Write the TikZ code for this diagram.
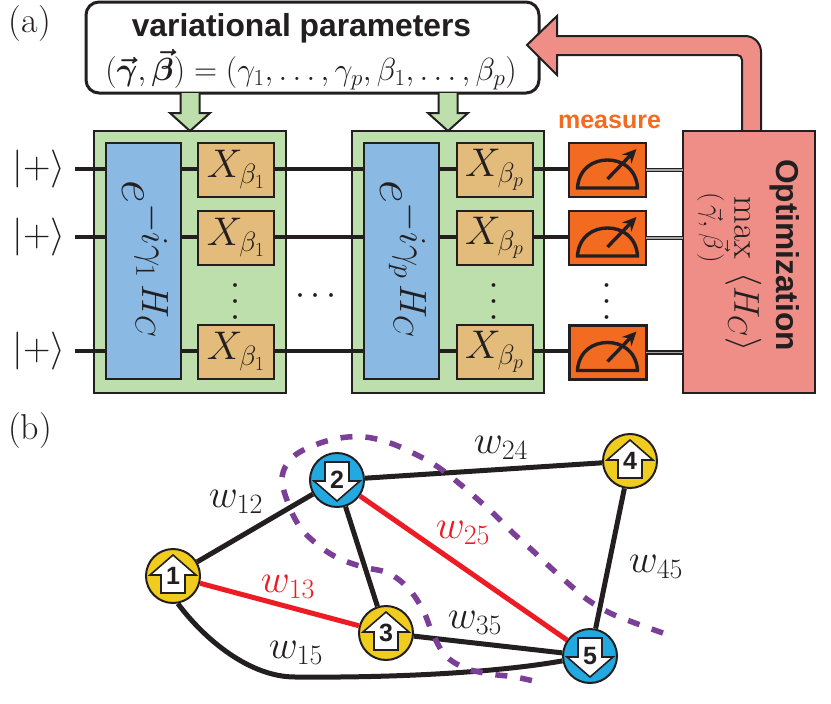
\documentclass[tikz,border=0pt]{standalone}
\usepackage{fix-cm}
\usepackage{amsmath}
\usepackage{bm}
\usepackage[no-math]{fontspec}
\newfontfamily\labelsans{Liberation Sans}[BoldFont={Liberation Sans Bold}]
\usetikzlibrary{arrows.meta,calc}
\DeclareMathSizes{36}{36}{27}{20}
\DeclareMathSizes{38}{38}{27}{20}
\DeclareMathSizes{40}{40}{28}{20}
\DeclareMathSizes{32}{32}{23}{17}
\DeclareMathSizes{50}{50}{38}{28}
\newcommand{\fsz}[1]{\fontsize{#1}{#1}\selectfont}
\newcommand{\phaseop}[1]{$e\raisebox{20pt}{$\scriptstyle -i\gamma_{#1}\,H_C$}$}
\definecolor{ink}{HTML}{231F20}
\definecolor{gatearea}{HTML}{BCDFAC}
\definecolor{phasecol}{HTML}{8AB9E4}
\definecolor{mixcol}{HTML}{E3BC7B}
\definecolor{meascol}{HTML}{F26B21}
\definecolor{optcol}{HTML}{EF8E86}
\definecolor{spinyellow}{HTML}{F0CC1E}
\definecolor{spinblue}{HTML}{22A9E0}
\definecolor{cutred}{HTML}{ED1C24}
\definecolor{cutline}{HTML}{7B3F98}
\tikzset{
  base/.style={draw=ink,text=ink,inner sep=0pt,outer sep=0pt},
  layerbox/.style={base,line width=2pt,fill=gatearea,minimum width=192pt,minimum height=262pt},
  phasebox/.style={base,line width=2pt,fill=phasecol,minimum width=75pt,minimum height=236pt},
  phasetext/.style={rotate=-90,anchor=base,text=ink,font=\fsz{50},inner sep=0pt},
  mixbox/.style={base,line width=2pt,fill=mixcol,minimum width=76pt,minimum height=54pt,font=\fsz{40}},
  measbox/.style={base,line width=2pt,fill=meascol,minimum width=77pt,minimum height=54pt},
  wire/.style={draw=ink,line width=4.3pt},
  classical/.style={draw=ink,line width=4.5pt,postaction={draw=black!35,line width=1.4pt}},
  edgeline/.style={draw=ink,line width=5pt},
  cutedge/.style={draw=cutred,line width=5pt},
  edgelabel/.style={text=ink,font=\fsz{40},inner sep=0pt},
  redlabel/.style={edgelabel,text=cutred},
  ket/.style={text=ink,font=\fsz{38},inner sep=0pt},
  letter/.style={text=ink,font=\fsz{36},inner sep=0pt},
  fatarrow/.style={draw=ink,line width=2pt,fill=#1,line join=miter},
  spinnode/.style={circle,draw=ink,line width=2pt,minimum size=54pt,inner sep=0pt,
    font=\labelsans\bfseries\fsz{25},text=ink},
  spinup/.style={spinnode,fill=spinyellow,path picture={
    \draw[draw=ink,fill=white,line width=1.6pt,line join=miter]
      let \p0=(path picture bounding box.center) in
      (\x0,\y0+21) -- (\x0+23,\y0+1) -- (\x0+12,\y0+1) -- (\x0+12,\y0-17)
      -- (\x0-12,\y0-17) -- (\x0-12,\y0+1) -- (\x0-23,\y0+1) -- cycle;}},
  spindown/.style={spinnode,fill=spinblue,path picture={
    \draw[draw=ink,fill=white,line width=1.6pt,line join=miter]
      let \p0=(path picture bounding box.center) in
      (\x0,\y0-21) -- (\x0+23,\y0-1) -- (\x0+12,\y0-1) -- (\x0+12,\y0+18)
      -- (\x0-12,\y0+18) -- (\x0-12,\y0-1) -- (\x0-23,\y0-1) -- cycle;}},
  gauge/.pic={
    \draw[ink,line width=3.4pt,line join=miter]
      (-30,18) -- (30,18) -- (30,17) .. controls (28,-2) and (14,-10) .. (0,-10)
      .. controls (-14,-10) and (-28,-2) .. (-30,17) -- cycle;
    \draw[ink,line width=3.4pt,-{Stealth[length=14pt,width=13pt]}] (0,9) -- (29,-21);
  }
}
\begin{document}
\begin{tikzpicture}[x=1pt,y=-1pt]
\useasboundingbox (0,0) rectangle (831,704);

% panel letters
\node[letter] (pa) at (30,24) {(a)};
\node[letter] (pb) at (30,431) {(b)};

% parameter box
\node[base,line width=3pt,fill=white,rounded corners=13pt,minimum width=453pt,minimum height=91pt]
  (params) at (312.5,47.5) {};
\node[text=ink,font=\labelsans\bfseries\fsz{31.8},inner sep=0pt] (ptitle) at (301.5,28) {variational parameters};
\node[text=ink,font=\fsz{32},inner sep=0pt] (pformula) at (311,70)
  {$(\bm{\vec{\gamma}},\bm{\vec{\beta}})=(\gamma_1,\ldots,\gamma_p,\beta_1,\ldots,\beta_p)$};

% feedback arrow from the optimiser to the parameter box
\path[fatarrow=optcol]
  (742,132) -- (742,60) .. controls (742,57) and (740,55) .. (737,55)
  -- (557,55) -- (557,75) -- (527,45) -- (557,16) -- (557,36) -- (745,36)
  .. controls (754,36) and (761,43) .. (761,52) -- (761,132);

% two QAOA layers
\node[layerbox] (layer1) at (190,262) {};
\node[layerbox] (layer2) at (448,262) {};
\node[phasebox] (phase1) at (143.5,261) {};
\node[phasebox] (phase2) at (401.5,261) {};
\node[phasetext] (phase1t) at (122,259) {\phaseop{1}};
\node[phasetext] (phase2t) at (380,259) {\phaseop{p}};

% parameters feed into each layer
\foreach \lay in {layer1,layer2}{
  \path[fatarrow=gatearea]
    ($(\lay.north |- params.south)+(-9.5,0)$) -- ($(\lay.north)+(-9.5,-18)$)
    -- ($(\lay.north)+(-20,-18)$) -- (\lay.north) -- ($(\lay.north)+(20,-18)$)
    -- ($(\lay.north)+(9.5,-18)$) -- ($(\lay.north |- params.south)+(9.5,0)$);
}

% mixer gates
\foreach \r/\yy in {1/170,2/238,3/352}{
  \node[mixbox] (xa\r) at (236,\yy) {$X_{\beta_1}$};
  \node[mixbox] (xb\r) at (494.5,\yy) {$X_{\beta_p}$};
  \node[ket] (in\r) at (39,\yy-1) {$|{+}\rangle$};
  \coordinate (start\r) at (75,\yy-1);
}

% optimiser
\node[base,line width=2.4pt,fill=optcol,minimum width=132pt,minimum height=262pt] (opt) at (749,262) {};
\node[rotate=-90,text=ink,font=\labelsans\bfseries\fsz{31.7},inner sep=0pt] (opttitle) at (785,255) {Optimization};
\node[rotate=-90,text=ink,font=\fsz{36},inner sep=0pt] (optmax) at (728,272)
  {$\max\limits_{(\mkern2mu\vec{\gamma},\mkern4mu\vec{\beta}\mkern2mu)}\;\langle H_C\rangle$};

% measurement
\node[text=meascol,font=\labelsans\bfseries\fsz{25},inner sep=0pt] (mlabel) at (609.5,122) {measure};
\node[measbox] (m1) at (607.5,170) {};
\node[measbox] (m2) at (607.5,238) {};
\node[measbox,line width=3pt] (m3) at (607.5,352.5) {};
\foreach \r in {1,2,3}{ \pic at (m\r) {gauge}; }

% qubit wires and classical readout
\foreach \r in {1,2,3}{
  \draw[wire] (start\r) -- (start\r -| phase1.west);
  \draw[wire] (start\r -| phase1.east) -- (start\r -| xa\r.west);
  \draw[wire] (start\r -| xa\r.east) -- (start\r -| phase2.west);
  \draw[wire] (start\r -| phase2.east) -- (start\r -| xb\r.west);
  \draw[wire] (start\r -| xb\r.east) -- (start\r -| m\r.west);
  \path[classical] (m\r.east) -- (m\r.east -| opt.west);
}
\node[rotate=90,font=\fsz{36},text=ink,inner sep=0pt] (da) at (236,298) {$\cdots$};
\node[rotate=90,font=\fsz{36},text=ink,inner sep=0pt] (db) at (494.5,298) {$\cdots$};
\node[rotate=90,font=\fsz{36},text=ink,inner sep=0pt] (dc) at (607.5,298) {$\cdots$};
\node[font=\fsz{36},text=ink,inner sep=0pt] (dh) at (319,296) {$\cdots$};

% graph vertices
\node[spinup]   (n1) at (173,576) {\raisebox{-2pt}{1}};
\node[spindown] (n2) at (337,480) {\raisebox{0pt}{2}};
\node[spinup]   (n3) at (386,633) {\raisebox{-2pt}{3}};
\node[spinup]   (n4) at (630,461) {\raisebox{-2pt}{4}};
\node[spindown] (n5) at (590,656) {\raisebox{0pt}{5}};

% graph edges
\draw[edgeline] (n1) -- (n2);
\draw[edgeline] (n2) -- (n3);
\draw[edgeline] (n2) -- (n4);
\draw[edgeline] (n3) -- (n5);
\draw[edgeline] (n4) -- (n5);
\draw[cutedge] (n1) -- (n3);
\draw[cutedge] (n2) -- (n5);
\coordinate (bend15) at (295,677);
\draw[edgeline] (n1.-80) .. controls (205,640) and (250,677) .. (bend15)
  .. controls (400,678) and (500,672) .. (n5.190);

% edge weights
\node[edgelabel] (w12) at (236,502) {$w_{12}$};
\node[redlabel]  (w13) at (288,587) {$w_{13}$};
\node[edgelabel] (w15) at (296,653) {$w_{15}$};
\node[edgelabel] (w24) at (501,448) {$w_{24}$};
\node[redlabel]  (w25) at (463,533) {$w_{25}$};
\node[edgelabel] (w35) at (475,623) {$w_{35}$};
\node[edgelabel] (w45) at (656,567) {$w_{45}$};

% the cut
\draw[cutline,line width=5.5pt,dash pattern=on 12pt off 13pt]
  plot[smooth,tension=0.6] coordinates {
  (663,633) (635,623) (610,613) (588,600) (570,585) (550,567) (532,550) (513,533)
  (495,515) (475,497) (455,480) (435,465) (413,453) (390,443) (365,437) (340,438)
  (315,445) (293,457) (282,477) (288,503) (300,527) (318,545) (338,558) (363,567)
  (388,573) (408,588) (423,610) (432,632) (445,655) (465,668) (490,674) (515,677) (542,683)};
\end{tikzpicture}
\end{document}
